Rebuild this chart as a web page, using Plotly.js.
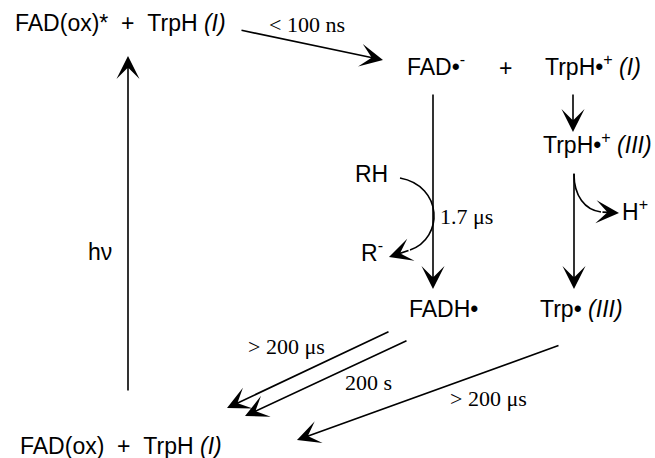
<!DOCTYPE html>
<html><head><meta charset="utf-8">
<script src="https://cdn.plot.ly/plotly-3.0.1.min.js"></script>
<style>html,body{margin:0;padding:0;background:#fff}</style>
</head><body><div id="chart" style="width:655px;height:458px"></div>
<script>
// ---- content ----
const NB = '\u00A0';
const speciesLabels = [
  'FAD(ox)*' + NB + NB + '+' + NB + NB + 'TrpH' + NB + '<i>(I)</i>',
  'FAD•<sup>-</sup>',
  '+',
  'TrpH•<sup>+</sup>' + NB + '<i>(I)</i>',
  'TrpH•<sup>+</sup>' + NB + '<i>(III)</i>',
  'RH',
  'H<sup>+</sup>',
  'R<sup>-</sup>',
  'FADH•',
  'Trp•' + NB + '<i>(III)</i>',
  'FAD(ox)' + NB + NB + '+' + NB + NB + 'TrpH' + NB + '<i>(I)</i>',
  'h\u03BD'
];
const rateLabels = ['< 100 ns', '1.7 \u03BCs', '> 200 \u03BCs', '200 s', '> 200 \u03BCs'];

// ---- layout positions (diagram coordinates, px-like) ----
const speciesX = [120, 436, 505, 593, 597, 371, 635, 372, 443, 581, 121, 100];
const speciesY = [22.5, 64.5, 67.5, 64.5, 142.5, 173.5, 210, 250.5, 308.5, 308.5, 446, 252];
const rateX = [307, 466, 286, 368, 488];
const rateY = [24, 216, 346, 382, 398];

// straight arrows: tail -> head
const arrowFromX = [240, 433, 573, 574, 128, 390, 408, 560];
const arrowFromY = [30, 93, 93, 172, 392, 331, 340, 345];
const arrowToX   = [383, 433, 573, 574, 128, 227, 245, 297];
const arrowToY   = [60, 289, 132, 289, 56, 408, 416, 440];

// curved arrows: bezier body + short head segment
const curvePaths = [
  'M 400 178 C 443 186, 444 238, 410 250',
  'M 574 174 C 574 196, 585 210, 601 212'
];
const curveHeadFromX = [410, 601];
const curveHeadFromY = [250, 212];
const curveHeadToX = [389, 619];
const curveHeadToY = [257, 213];

const SANS = 'Liberation Sans, Arial, sans-serif';
const SERIF = 'Liberation Serif, Times New Roman, serif';

const annotations = [];
speciesLabels.forEach((t, i) => annotations.push({
  x: speciesX[i], y: speciesY[i], xref: 'x', yref: 'y', text: t, showarrow: false,
  xanchor: 'center', yanchor: 'middle', font: {family: SANS, size: 23, color: '#000'}
}));
rateLabels.forEach((t, i) => annotations.push({
  x: rateX[i], y: rateY[i], xref: 'x', yref: 'y', text: t, showarrow: false,
  xanchor: 'center', yanchor: 'middle', font: {family: SERIF, size: 22, color: '#000'}
}));
function arrow(fx, fy, tx, ty) {
  return {x: tx, y: ty, ax: fx, ay: fy, xref: 'x', yref: 'y', axref: 'x', ayref: 'y',
    text: '', showarrow: true, arrowhead: 3, arrowsize: 2.4, arrowwidth: 1.6,
    arrowcolor: '#000', standoff: 0, startstandoff: 0};
}
arrowFromX.forEach((_, i) => annotations.push(arrow(arrowFromX[i], arrowFromY[i], arrowToX[i], arrowToY[i])));
curveHeadFromX.forEach((_, i) => annotations.push(arrow(curveHeadFromX[i], curveHeadFromY[i], curveHeadToX[i], curveHeadToY[i])));

const shapes = curvePaths.map(p => ({type: 'path', path: p, xref: 'x', yref: 'y',
  line: {color: '#000', width: 1.6}}));

const layout = {
  width: 655, height: 458,
  margin: {l: 0, r: 0, t: 0, b: 0},
  paper_bgcolor: '#fff', plot_bgcolor: '#fff',
  showlegend: false,
  xaxis: {range: [0, 655], visible: false, fixedrange: true},
  yaxis: {range: [458, 0], visible: false, fixedrange: true},
  annotations: annotations,
  shapes: shapes
};
Plotly.newPlot('chart', [], layout, {staticPlot: true, displayModeBar: false});
</script>
</body></html>
